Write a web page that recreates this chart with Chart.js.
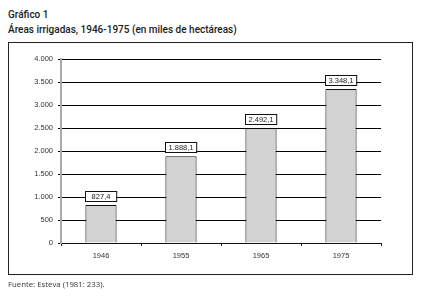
<!DOCTYPE html>
<html>
<head>
<meta charset="utf-8">
<script src="https://cdn.jsdelivr.net/npm/chart.js@4"></script>
<style>
    body { margin: 0; background: #fff; width: 426px; height: 297px; position: relative; overflow: hidden; }
    .t { position: absolute; left: 8px; font-family: Roboto, sans-serif; font-weight: 500; font-size: 10px; color: #1a1a1a; white-space: nowrap; }
    #frame { position: absolute; left: 8px; top: 42px; width: 403px; height: 231px; border: 1px solid #222; }
    #foot { position: absolute; left: 8px; top: 279px; font-family: "Open Sans", sans-serif; font-size: 7.8px; color: #333; }
    #wrap { position: absolute; left: 0; top: 0; width: 426px; height: 297px; }
</style>
</head>
<body>
<div class="t" style="top:9px">Gráfico 1</div>
<div class="t" style="top:24px">Áreas irrigadas, 1946-1975 (en miles de hectáreas)</div>
<div id="frame"></div>
<div id="wrap"><canvas id="grafico"></canvas></div>
<div id="foot">Fuente: Esteva (1981: 233).</div>
<script>
// Datos del gráfico
const years = ["1946", "1955", "1965", "1975"];
const areas = [827.4, 1888.1, 2492.1, 3348.1];
const yTicks = [0, 500, 1000, 1500, 2000, 2500, 3000, 3500, 4000];

function fmtMiles(v, dec) {
    let s = v.toFixed(dec);
    let parts = s.split(".");
    parts[0] = parts[0].replace(/\B(?=(\d{3})+(?!\d))/g, ".");
    return parts.join(",");
}

// cajas con el valor encima de cada barra
const etiquetas = {
    id: "etiquetas",
    afterDatasetsDraw(chart) {
        const ctx = chart.ctx;
        const meta = chart.getDatasetMeta(0);
        ctx.save();
        ctx.font = "7.5px 'Liberation Sans', sans-serif";
        ctx.textAlign = "center";
        ctx.textBaseline = "middle";
        meta.data.forEach((bar, i) => {
            const w = bar.width;
            const h = 10;
            const x = Math.round(bar.x - w / 2) + 0.5;
            const y = Math.round(bar.y - 4 - h) + 0.5;
            ctx.fillStyle = "#fff";
            ctx.fillRect(x, y, w, h);
            ctx.strokeStyle = "#111";
            ctx.lineWidth = 1;
            ctx.strokeRect(x, y, w, h);
            ctx.fillStyle = "#222";
            ctx.fillText(fmtMiles(areas[i], 1), bar.x, y + h / 2 + 0.5);
        });
        ctx.restore();
    }
};

new Chart(document.getElementById("grafico"), {
    type: "bar",
    data: {
        labels: years,
        datasets: [{
            data: areas,
            backgroundColor: "#d2d2d2",
            borderColor: "#111",
            borderWidth: 1,
            barPercentage: 0.39,
            categoryPercentage: 1
        }]
    },
    options: {
        responsive: true,
        maintainAspectRatio: false,
        animation: false,
        layout: { padding: { left: 0, right: 45, top: 59, bottom: 30 } },
        plugins: { legend: { display: false }, tooltip: { enabled: false } },
        scales: {
            x: {
                afterFit: (s) => { s.height = 24; },
                grid: { drawOnChartArea: false, drawTicks: true, tickLength: 3, color: "#222" },
                border: { color: "#111", width: 1 },
                ticks: { color: "#333", font: { family: "'Liberation Sans', sans-serif", size: 7.5 }, padding: 5 }
            },
            y: {
                min: 0,
                max: 4000,
                afterFit: (s) => { s.width = 61; },
                afterBuildTicks: (s) => { s.ticks = yTicks.map(v => ({ value: v })); },
                grid: { color: "#000", lineWidth: 1, tickLength: 3 },
                border: { color: "#aaa", width: 2 },
                ticks: {
                    color: "#333",
                    font: { family: "'Liberation Sans', sans-serif", size: 7.5 },
                    padding: 5,
                    callback: (v) => fmtMiles(v, 0)
                }
            }
        }
    },
    plugins: [etiquetas]
});
</script>
</body>
</html>
